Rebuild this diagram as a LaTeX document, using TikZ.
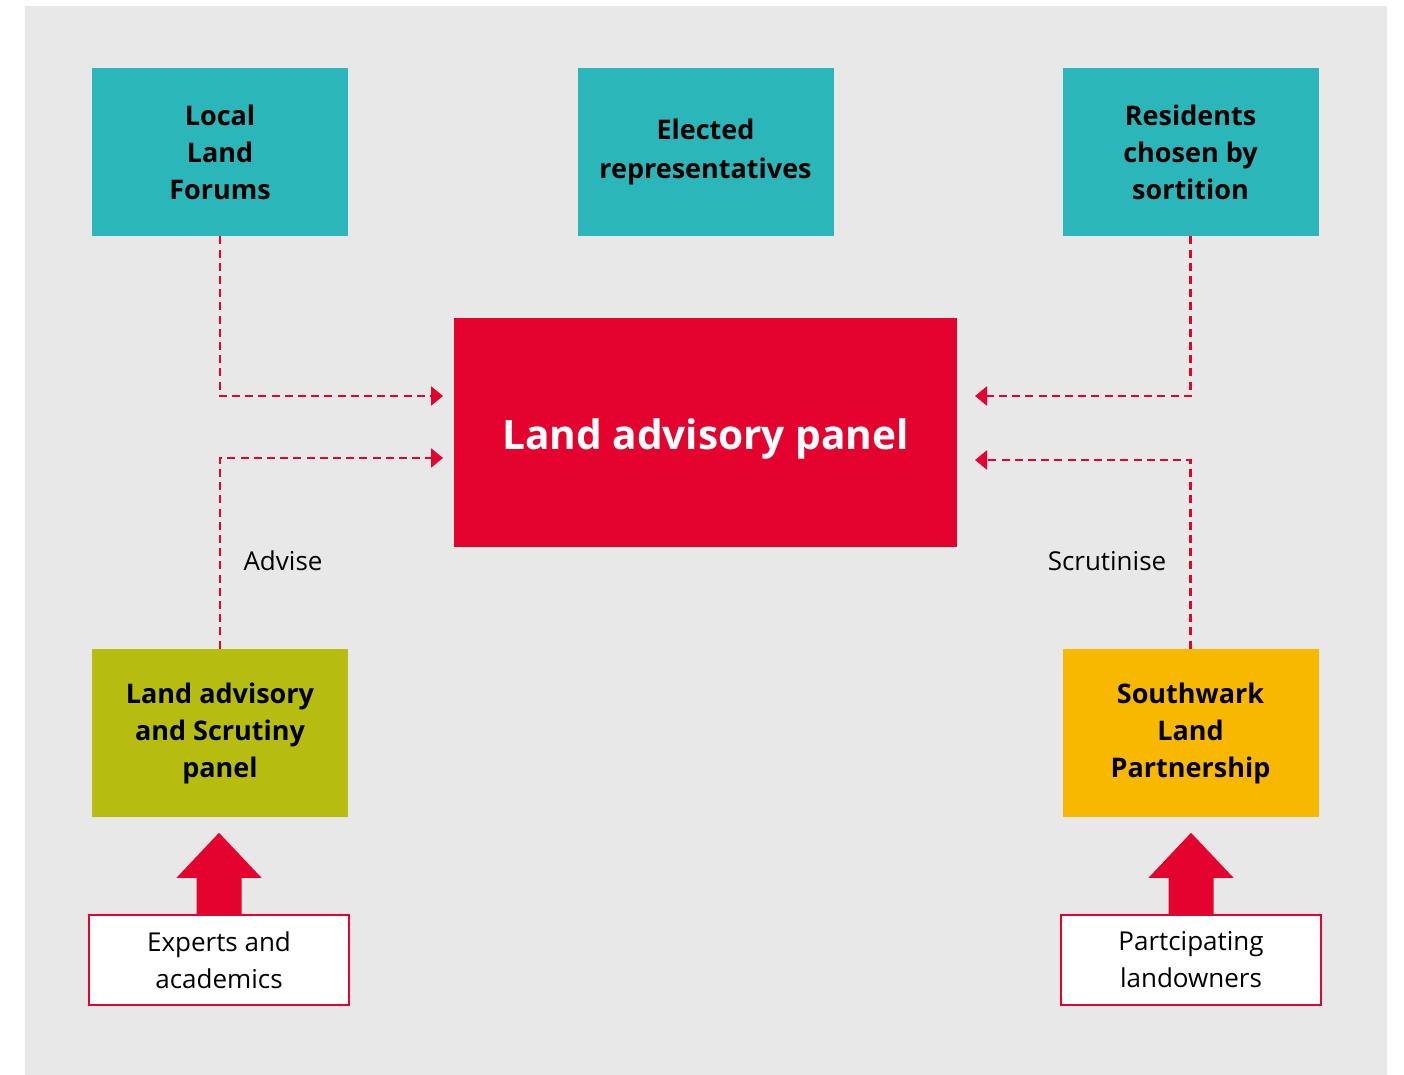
\documentclass[tikz,border=0pt]{standalone}
\usepackage{fontspec}
\setmainfont{Open Sans}
\usetikzlibrary{arrows.meta, calc}

\definecolor{bggray}{HTML}{E8E8E8}
\definecolor{lapteal}{HTML}{2BB6B9}
\definecolor{lapred}{HTML}{E4032E}
\definecolor{lapolive}{HTML}{B6BD10}
\definecolor{lapyellow}{HTML}{F9B800}

\tikzset{
  box/.style={minimum width=128pt, minimum height=84pt, inner sep=2pt,
    align=center, font=\bfseries\fontsize{13.5}{18.5}\selectfont},
  srcbox/.style={draw=lapred, line width=1.2pt, fill=white, minimum width=130pt,
    minimum height=45pt, align=center, font=\fontsize{13}{18.5}\selectfont},
  link/.style={lapred, line width=1.3pt, dash pattern=on 4pt off 2.6pt,
    -{Triangle[length=6pt, width=9.5pt]}},
}

\begin{document}
\begin{tikzpicture}[x=0.5pt, y=-0.5pt]
	
	% page and background
	\useasboundingbox (0,0) rectangle (1404,1075);
	\fill[bggray] (25,6) rectangle (1387,1075);
	
	% top row
	\node[box, fill=lapteal] (forums)    at (220,152)    {Local\\Land\\Forums};
	\node[box, fill=lapteal] (elected)   at (705.5,152)  {Elected\\[1pt]representatives};
	\node[box, fill=lapteal] (residents) at (1190.5,152) {Residents\\chosen by\\sortition};
	
	% central panel
	\node[fill=lapred, text=white, minimum width=251.5pt, minimum height=114.5pt,
	  text height=17.5pt, text depth=0pt,
	  font=\bfseries\fontsize{20.3}{24}\selectfont] (panel) at (705.5,432.5) {Land advisory panel};
	
	% bottom row
	\node[box, fill=lapolive]  (scrutiny)  at (220,733)    {Land advisory\\and Scrutiny\\panel};
	\node[box, fill=lapyellow] (southwark) at (1190.5,733) {Southwark\\Land\\Partnership};
	
	% sources
	\node[srcbox] (experts) at (219,960)  {Experts and\\academics};
	\node[srcbox] (owners)  at (1191,960) {Partcipating\\landowners};
	
	% big arrows
	\foreach \n in {experts, owners} {
		\fill[lapred] (\n.north) ++(-22.5,0) -- ++(0,-36) -- ++(-20,0) -- ++(42.5,-45)
		  -- ++(42.5,45) -- ++(-20,0) -- ++(0,36) -- cycle;
	}
	
	% arrow ends near the panel
	\coordinate (inLT) at (443,396);
	\coordinate (inLB) at (443,458);
	\coordinate (inRT) at (975,396);
	\coordinate (inRB) at (975,460);
	
	% dashed links
	\draw[link] (forums.south) |- (inLT);
	\draw[link] (scrutiny.north) |- (inLB);
	\draw[link] (residents.south) |- (inRT);
	\draw[link] (southwark.north) |- (inRB);
	
	% link labels
	\node[font=\fontsize{13}{16}\selectfont] (advise) at (283,561) {Advise};
	\node[font=\fontsize{13}{16}\selectfont] (scrut)  at (1107,561) {Scrutinise};
	
\end{tikzpicture}
\end{document}
